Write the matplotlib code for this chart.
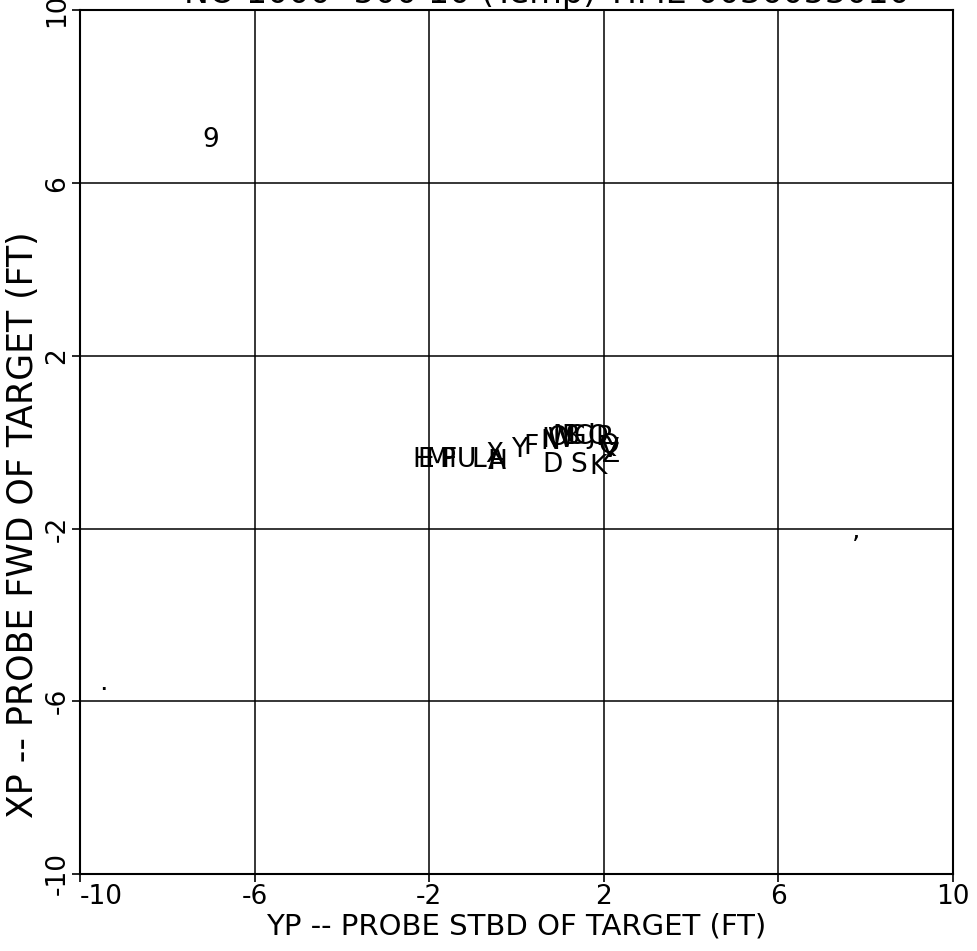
import matplotlib
matplotlib.use("Agg")
import matplotlib.pyplot as plt

plt.rcParams["font.family"] = ["DejaVu Sans"]
plt.rcParams["axes.unicode_minus"] = False

TITLE = "NO 1000 -500 10 (Temp) TIME 0036053010"
X_LABEL = "YP -- PROBE STBD OF TARGET (FT)"
Y_LABEL = "XP -- PROBE FWD OF TARGET (FT)"

TICKS = [-10, -6, -2, 2, 6, 10]
TICK_LABELS = ["-10", "-6", "-2", "2", "6", "10"]

# Run markers: one letter per run, plotted at (YP, XP).
marks = ["9", "H", "E", "M", "P", "F", "I", "U", "L", "X", "A", "H",
         "Y", "F", "I", "N", "O", "W", "M", "D", "B", "G", "C", "J",
         "O", "R", "Q", "V", "Z", "S", "K", ",", "."]
yp = [-7.0, -2.16, -2.09, -1.83, -1.58, -1.54, -1.47, -1.15, -0.87, -0.50, -0.46, -0.43,
      0.07, 0.34, 0.67, 0.78, 0.94, 1.00, 1.08, 0.83, 1.24, 1.36, 1.51, 1.72,
      1.86, 2.02, 2.11, 2.13, 2.16, 1.42, 1.88, 7.78, -9.47]
xp = [7.0, -0.42, -0.42, -0.42, -0.42, -0.42, -0.42, -0.42, -0.42, -0.30, -0.46, -0.46,
      -0.19, -0.12, 0.04, 0.0, 0.09, 0.04, 0.12, -0.53, 0.12, 0.12, 0.12, 0.14,
      0.12, 0.09, -0.08, -0.19, -0.30, -0.53, -0.58, -2.05, -5.58]

fig = plt.figure(figsize=(9.77, 9.51), dpi=100)
ax = fig.add_axes([0.0819, 0.081, 0.8935, 0.908])
ax.set_xlim(-10, 10)
ax.set_ylim(-10, 10)

for s in ax.spines.values():
    s.set_linewidth(1.5)
    s.set_color("black")
ax.set_xticks(TICKS)
ax.set_yticks(TICKS)
ax.grid(True, color="black", linewidth=1.1)
ax.tick_params(direction="out", length=6, width=1.2, colors="black", labelsize=19, pad=1)
ax.set_xticklabels(TICK_LABELS)
ax.set_yticklabels(TICK_LABELS, rotation=90, va="center")
ax.xaxis.get_ticklabels()[0].set_ha("left")

ax.set_xlabel(X_LABEL, fontsize=21)
ax.xaxis.set_label_coords(0.5, -0.045, transform=ax.transAxes)
ax.xaxis.label.set_va("top")
ax.set_ylabel(Y_LABEL, fontsize=25)
ax.yaxis.set_label_coords(-0.046, 0.404, transform=ax.transAxes)

for m, x, y in zip(marks, yp, xp):
    ax.text(x, y, m, fontsize=19, ha="center", va="center", clip_on=False)

# Title sits mostly above the page edge, as on the original plot.
fig.text(0.56, 0.997, TITLE, fontsize=24, ha="center", va="baseline")

fig.savefig("out.png", dpi=100)
